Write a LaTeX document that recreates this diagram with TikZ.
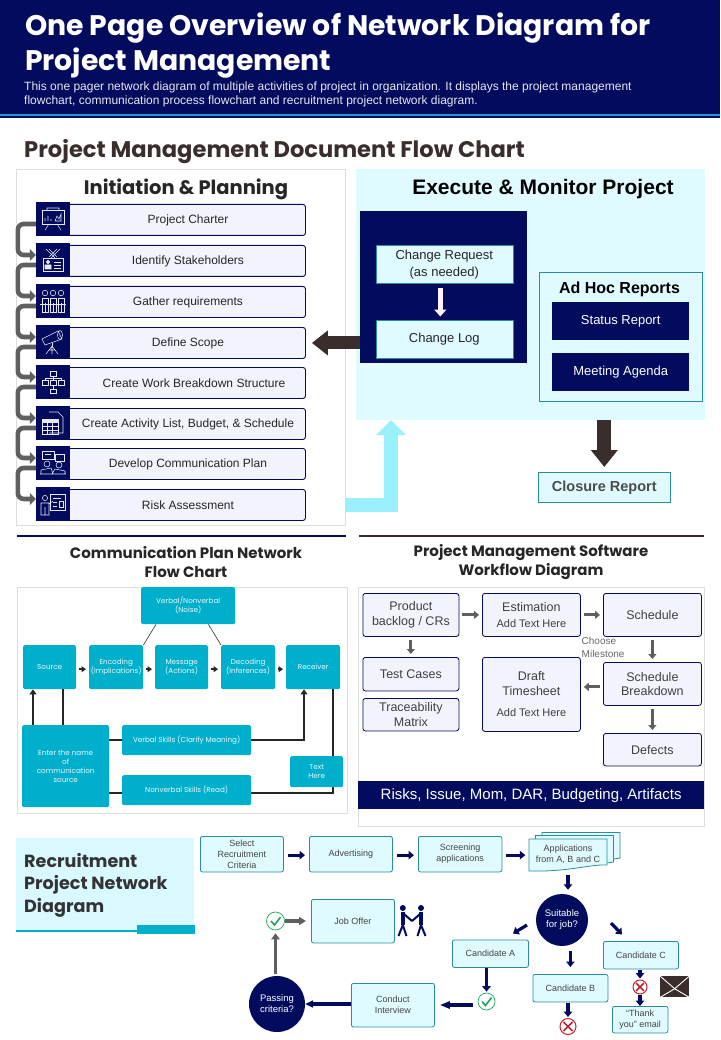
\documentclass[tikz,border=0pt]{standalone}
\usepackage{fontspec}
\setmainfont{Liberation Sans}
\newfontfamily\gothic{Poppins}
\usetikzlibrary{arrows.meta}
\definecolor{navy}{HTML}{020B5E}
\definecolor{stripe}{HTML}{1E9BD7}
\definecolor{brownish}{HTML}{3A2E2C}
\definecolor{teal}{HTML}{00AFCB}
\definecolor{tealline}{HTML}{2A8C9C}
\definecolor{pale}{HTML}{E0FBFF}
\definecolor{hirepale}{HTML}{D8F9FF}
\definecolor{lilac}{HTML}{F2F3FD}
\definecolor{skyarrow}{HTML}{99F0FB}
\definecolor{greyarrow}{HTML}{5F5F5F}
\definecolor{panelline}{HTML}{DDDDDD}
\definecolor{txtgrey}{HTML}{444444}
\definecolor{tickgreen}{HTML}{1FA55B}
\definecolor{crossred}{HTML}{C2202C}
\tikzset{
  box/.style={anchor=north west,inner sep=0pt,align=center},
  panel/.style={box,draw=panelline,line width=.8pt},
  rowbox/.style={box,draw=navy,line width=.9pt,fill=lilac,rounded corners=2.5pt,minimum width=240,minimum height=31,font=\fontsize{12}{14}\selectfont,text=black!85,execute at begin node={\hspace*{5pt}}},
  iconbox/.style={anchor=center,inner sep=0pt,fill=navy,minimum size=34},
  iconline/.style={draw=white!90!navy,line width=.55pt},
  loopline/.style={draw=greyarrow,line width=4.6pt,rounded corners=6pt,-{Triangle[length=6pt,width=12pt]}},
  heading/.style={anchor=center,inner sep=0pt,align=center,font=\gothic\bfseries\fontsize{15}{19}\selectfont,text=black!85},
  execbox/.style={box,draw=tealline,line width=.6pt,fill=pale,font=\fontsize{13}{17}\selectfont,text=black!85},
  darkbox/.style={box,fill=navy,text=white,font=\fontsize{13}{15}\selectfont},
  flatarrow/.style={line width=#1,shorten <=4pt,shorten >=3pt},
  commbox/.style={box,fill=teal,rounded corners=1.5pt,text=white!92!teal,font=\gothic\fontsize{7.2}{9}\selectfont},
  commline/.style={draw=black!85,line width=1.5pt},
  commdot/.style={commline,-{Triangle[length=4.5pt,width=6pt]},shorten <=3pt,shorten >=3pt},
  commtip/.style={commline,-{Triangle[length=5pt,width=7pt]}},
  softbox/.style={box,draw=navy,line width=.8pt,fill=lilac,rounded corners=2.5pt,font=\fontsize{12.5}{14.5}\selectfont,text=black!75},
  softarrow/.style={draw=greyarrow,line width=3pt,-{Triangle[length=5pt,width=8pt]},shorten <=3pt,shorten >=3pt},
  hirebox/.style={box,draw=tealline,line width=.8pt,fill=pale,rounded corners=2pt,font=\fontsize{9}{11}\selectfont,text=txtgrey},
  hirearrow/.style={draw=navy,line width=3.2pt,-{Triangle[length=5.5pt,width=8.5pt]},shorten <=4pt,shorten >=4pt},
  hirecircle/.style={circle,fill=navy,text=white,inner sep=0pt,align=center,font=\fontsize{9.5}{11}\selectfont},
  tickring/.style={circle,draw=tickgreen,line width=.7pt,fill=white,inner sep=0pt},
  crossring/.style={circle,draw=crossred,line width=1pt,fill=white,inner sep=0pt},
  tickmark/.style={draw=tickgreen,line width=1.6pt},
  crossmark/.style={draw=crossred,line width=1.6pt,shorten <=2pt,shorten >=2pt},
  docsheet/.style={draw=tealline,line width=.8pt,fill=pale},
  iconBoard/.pic={
    \draw[iconline] (-11,-9) rectangle (11,5);
    \draw[iconline] (-8,2) -- (-8,-1) (-5,2) -- (-5,-3) (-2,2) -- (-2,0) (2,2) -- (4,-3) -- (6,0) -- (8,-5) -- (8,2) -- cycle;
    \draw[iconline] (-4,5) -- (-8,11) (4,5) -- (8,11) (-6,-9) -- (-6,-11) -- (6,-11) -- (6,-9);},
  iconBadge/.pic={
    \draw[iconline] (-7,-11) -- (2,-2) (7,-11) -- (-2,-2) (-4,-11) -- (4,-3) (4,-11) -- (-4,-3);
    \draw[iconline] (-10,-2) rectangle (10,11);
    \draw[iconline,fill=white!90!navy] (-5,2) circle (1.8) (-8,9) rectangle (-2,5);
    \draw[iconline] (1,2) -- (8,2) (1,5) -- (8,5) (1,8) -- (8,8);},
  iconCrowd/.pic={
    \draw[iconline] (-8,-8) circle (2.8) (0,-8) circle (2.8) (8,-8) circle (2.8);
    \draw[iconline] (-11,-3) rectangle (-5,11) (-3,-3) rectangle (3,11) (5,-3) rectangle (11,11);
    \draw[iconline] (-8,2) -- (-8,11) (0,2) -- (0,11) (8,2) -- (8,11) (-13,3) -- (13,3);},
  iconScope/.pic={
    \draw[iconline] (-11,-3) -- (5,-11) -- (9,-3) -- (-8,3) -- cycle;
    \draw[iconline] (7,-7) ellipse (2.5 and 4.5);
    \draw[iconline] (-1,1) -- (-1,4);
    \draw[iconline] (-1,4) -- (-7,12) (-1,4) -- (-1,12) (-1,4) -- (5,12) (-4,8) -- (2,8);},
  iconTree/.pic={
    \draw[iconline] (-3,-11) rectangle (3,-6) (-11,-2) rectangle (-5,3) (-3,-2) rectangle (3,3) (5,-2) rectangle (11,3) (-3,7) rectangle (3,11);
    \draw[iconline] (0,-6) -- (0,-2) (-8,-2) -- (-8,-4) -- (8,-4) -- (8,-2) (0,3) -- (0,7);},
  iconCalc/.pic={
    \draw[iconline] (-4,-11) -- (5,-11) -- (10,-6) -- (10,10) -- (-4,10);
    \draw[iconline,fill=white!90!navy] (-11,-4) rectangle (5,-1);
    \draw[iconline] (-11,-4) rectangle (5,11) (-11,3) -- (5,3) (-11,7) -- (5,7) (-6,-1) -- (-6,11) (-1,-1) -- (-1,11);},
  iconTalk/.pic={
    \draw[iconline] (-11,-12) rectangle (1,-4) (2,-9) rectangle (11,-2) (-8,-9) -- (-2,-9);
    \draw[iconline] (-6,1) circle (3) (6,2) circle (3);
    \draw[iconline] (-12,11) -- (-12,7) -- (-2,5) -- (0,11) (12,11) -- (12,8) -- (2,6) -- (-1,11) (-13,11) -- (13,11);},
  iconTeach/.pic={
    \draw[iconline] (-3,-10) rectangle (12,6);
    \draw[iconline] (0,-6) -- (8,-6) (0,-2) -- (4,-2) (6,-3) rectangle (10,3) (0,2) -- (4,2);
    \draw[iconline] (-8,-6) circle (2.6);
    \draw[iconline] (-12,11) -- (-12,-1) -- (-4,-1) -- (-4,11) -- cycle (-8,3) -- (-8,11) (-4,0) -- (0,-3);},
}
\begin{document}
\begin{tikzpicture}[x=1pt,y=-1pt]
  \useasboundingbox (0,0) rectangle (720,1040);
  % header
  \fill[navy] (0,0) rectangle (720,118.5);
  \fill[stripe] (0,114.2) rectangle (720,116.4);
  \node[box,text=white,align=left,font=\gothic\bfseries\fontsize{28.3}{35}\selectfont] (title) at (25,13) {One Page Overview of Network Diagram for\\Project Management};
  \node[box,text=white!90!navy,align=left,font=\fontsize{12}{14}\selectfont] (subtitle) at (24,82) {This one pager network diagram of multiple activities of project in organization. It displays the project management\\flowchart, communication process flowchart  and recruitment project network diagram.};
  \node[box,text=brownish,font=\gothic\bfseries\fontsize{22.6}{27}\selectfont] (docTitle) at (24,139) {Project Management Document Flow Chart};

  % initiation and planning
  \node[panel,minimum width=329,minimum height=356] (panelPlan) at (16,169) {};
  \node[heading,font=\gothic\bfseries\fontsize{19.5}{23}\selectfont] (planTitle) at (186,189.5) {Initiation \& Planning};
  \node[rowbox] (rowCharter) at (65,204) {Project Charter};
  \node[rowbox] (rowStake) at (65,245) {Identify Stakeholders};
  \node[rowbox] (rowGather) at (65,286) {Gather requirements};
  \node[rowbox] (rowScope) at (65,327) {Define Scope};
  \node[rowbox] (rowWork) at (65,367) {\hspace*{12pt}Create Work Breakdown Structure};
  \node[rowbox] (rowActivity) at (65,408) {Create Activity  List, Budget, \& Schedule};
  \node[rowbox] (rowPlan) at (65,448) {Develop Communication Plan};
  \node[rowbox] (rowRisk) at (65,489) {Risk Assessment};
  \node[iconbox] (iconCharter) at (53,219) {};
  \node[iconbox] (iconStake) at (53,260) {};
  \node[iconbox] (iconGather) at (53,301) {};
  \node[iconbox] (iconScope) at (53,342) {};
  \node[iconbox] (iconWork) at (53,382) {};
  \node[iconbox] (iconActivity) at (53,423) {};
  \node[iconbox] (iconPlan) at (53,463) {};
  \node[iconbox] (iconRisk) at (53,504) {};
  \pic at (iconCharter) {iconBoard};
  \pic at (iconStake) {iconBadge};
  \pic at (iconGather) {iconCrowd};
  \pic at (iconScope) {iconScope};
  \pic at (iconWork) {iconTree};
  \pic at (iconActivity) {iconCalc};
  \pic at (iconPlan) {iconTalk};
  \pic at (iconRisk) {iconTeach};
  \draw[loopline] ([yshift=-5pt]iconCharter.west) -- ++(-18,0) |- ([yshift=5pt]iconStake.west);
  \draw[loopline] ([yshift=-5pt]iconStake.west) -- ++(-18,0) |- ([yshift=5pt]iconGather.west);
  \draw[loopline] ([yshift=-5pt]iconGather.west) -- ++(-18,0) |- ([yshift=5pt]iconScope.west);
  \draw[loopline] ([yshift=-5pt]iconScope.west) -- ++(-18,0) |- ([yshift=5pt]iconWork.west);
  \draw[loopline] ([yshift=-5pt]iconWork.west) -- ++(-18,0) |- ([yshift=5pt]iconActivity.west);
  \draw[loopline] ([yshift=-5pt]iconActivity.west) -- ++(-18,0) |- ([yshift=5pt]iconPlan.west);
  \draw[loopline] ([yshift=-5pt]iconPlan.west) -- ++(-18,0) |- ([yshift=5pt]iconRisk.west);

  % execute and monitor
  \node[box,fill=pale,minimum width=349,minimum height=251] (panelExec) at (356,169) {};
  \node[anchor=center,inner sep=0pt,font=\bfseries\fontsize{21}{24}\selectfont] (execTitle) at (543,189) {Execute \& Monitor Project};
  \node[box,fill=navy,minimum width=167,minimum height=152] (changeBlock) at (360,211) {};
  \node[execbox,minimum width=137,minimum height=38] (changeRequest) at (375.5,245.5) {Change Request\\(as needed)};
  \node[execbox,minimum width=137,minimum height=38] (changeLog) at (375.5,319.5) {Change Log};
  \draw[draw=white!95!red,line width=4.5pt,-{Triangle[length=7pt,width=12pt]},flatarrow=4.5pt] ([xshift=-4pt]changeRequest.south) -- ([xshift=-4pt]changeLog.north);
  \node[execbox,minimum width=163,minimum height=129] (adHoc) at (539,272) {};
  \node[anchor=center,inner sep=0pt,font=\bfseries\fontsize{16}{19}\selectfont] (adHocTitle) at (619.5,289.5) {Ad Hoc Reports};
  \node[darkbox,minimum width=137,minimum height=38] (statusReport) at (552,302) {Status Report};
  \node[darkbox,minimum width=137,minimum height=38] (meetingAgenda) at (552,353) {Meeting Agenda};
  \node[execbox,minimum width=132,minimum height=30,font=\bfseries\fontsize{14.5}{17}\selectfont,text=black!70] (closure) at (538,472) {Closure Report};
  \draw[draw=brownish,line width=13pt,-{Triangle[length=16pt,width=24pt]},shorten >=6pt] (changeBlock.west |- rowScope.east) -- (rowScope.east);
  \draw[draw=brownish,line width=14pt,-{Triangle[length=17pt,width=26pt]},shorten >=5pt] (panelExec.south -| closure.north) -- (closure.north);
  \coordinate (execIn) at (391,420);
  \coordinate (planOut) at (345,505);
  \draw[draw=skyarrow,line width=14pt,-{Triangle[length=15pt,width=29pt]}] (planOut) -| (execIn);

  % communication plan
  \draw[navy,line width=2pt] (17,536) -- (346,536);
  \draw[brownish,line width=2pt] (359,536) -- (704,536);
  \node[heading] (commTitle) at (186,562.5) {Communication Plan Network\\Flow Chart};
  \node[panel,minimum width=329.5,minimum height=225.5] (panelComm) at (17,587) {};
  \node[commbox,minimum width=94,minimum height=37] (commNoise) at (141,587) {Verbal/Nonverbal\\(Noise)};
  \node[commbox,minimum width=53,minimum height=44] (commSource) at (23,645) {Source};
  \node[commbox,minimum width=54,minimum height=44] (commEncode) at (89,645) {Encoding\\(Implications)};
  \node[commbox,minimum width=53,minimum height=44] (commMessage) at (155,645) {Message\\(Actions)};
  \node[commbox,minimum width=54,minimum height=44] (commDecode) at (221,645) {Decoding\\(Inferences)};
  \node[commbox,minimum width=54,minimum height=44] (commReceive) at (286,645) {Receiver};
  \node[commbox,minimum width=87,minimum height=82] (commName) at (22,725) {Enter the name\\of\\communication\\source};
  \node[commbox,minimum width=129,minimum height=30] (commVerbal) at (122,725) {Verbal Skills (Clarify Meaning)};
  \node[commbox,minimum width=129,minimum height=30] (commNonverbal) at (122,775) {Nonverbal Skills (Read)};
  \draw[brownish,line width=.6pt] ([xshift=15pt]commNoise.south west) -- (commEncode.north east);
  \draw[brownish,line width=.6pt] ([xshift=-27pt]commNoise.south east) -- (commDecode.north west);
  \draw[commdot] ([yshift=-2pt]commSource.east) -- ([yshift=-2pt]commEncode.west);
  \draw[commdot] ([yshift=-2pt]commEncode.east) -- ([yshift=-2pt]commMessage.west);
  \draw[commdot] ([yshift=-2pt]commMessage.east) -- ([yshift=-2pt]commDecode.west);
  \draw[commdot] ([yshift=-2pt]commDecode.east) -- ([yshift=-2pt]commReceive.west);
  \draw[commtip] ([xshift=11pt]commName.north west) -- ([xshift=10pt]commSource.south west);
  \draw[commline] ([xshift=41pt]commName.north west) -- ([xshift=40pt]commSource.south west);
  \draw[commline] (commName.east |- commVerbal.west) -- (commVerbal.west);
  \draw[commtip] (commVerbal.east) -| ([xshift=18pt]commReceive.south west);
  \draw[commline] (commName.east |- commNonverbal.west) ++(0,3) -- ++(13,0);
  \draw[commline] ([yshift=-3pt]commNonverbal.east) -| ([xshift=47pt]commReceive.south west);
  \node[commbox,minimum width=53,minimum height=31] (commText) at (290,756) {Text\\Here};

  % software workflow
  \node[heading] (softTitle) at (531,562.5) {Project Management Software\\Workflow Diagram};
  \node[panel,minimum width=346,minimum height=239] (panelSoft) at (358,587) {};
  \node[softbox,minimum width=96,minimum height=43] (softProduct) at (362.5,593) {Product\\backlog / CRs};
  \node[softbox,minimum width=98,minimum height=43] (softEstimate) at (482,593) {Estimation\\[1pt]{\fontsize{11}{13}\selectfont Add Text Here}};
  \node[softbox,minimum width=98,minimum height=43] (softSchedule) at (603,593) {Schedule};
  \node[softbox,minimum width=96,minimum height=33.5] (softTest) at (362.5,657) {Test Cases};
  \node[softbox,minimum width=96,minimum height=32.5] (softTrace) at (362.5,698) {Traceability\\Matrix};
  \node[softbox,minimum width=98,minimum height=74] (softDraft) at (482,657) {Draft\\Timesheet\\[7pt]{\fontsize{11}{13}\selectfont Add Text Here}};
  \node[softbox,minimum width=98,minimum height=43] (softBreak) at (603,662) {Schedule\\Breakdown};
  \node[softbox,minimum width=98,minimum height=32.5] (softDefects) at (603,733) {Defects};
  \node[box,fill=navy,text=white,minimum width=346,minimum height=28,font=\fontsize{15}{18}\selectfont] (softBanner) at (358,781) {Risks, Issue, Mom, DAR, Budgeting, Artifacts};
  \node[box,align=left,text=black!60,font=\fontsize{10}{13}\selectfont] (softChoose) at (581.5,637) {Choose\\Milestone};
  \draw[softarrow] (softProduct) -- (softEstimate);
  \draw[softarrow] (softEstimate) -- (softSchedule);
  \draw[softarrow] (softProduct) -- (softTest);
  \draw[softarrow] (softSchedule) -- (softBreak);
  \draw[softarrow] ([yshift=-3pt]softBreak.west) -- ([yshift=-3pt]softBreak.west -| softDraft.east);
  \draw[softarrow] (softBreak) -- (softDefects);

  % recruitment
  \node[box,fill=hirepale,minimum width=178,minimum height=93] (hireBlock) at (16,838) {};
  \fill[teal] (16,929.5) rectangle (137,931.5);
  \fill[teal] (137,925) rectangle (195,934);
  \node[box,align=left,text=black!80,font=\gothic\bfseries\fontsize{17.6}{22.5}\selectfont] (hireTitle) at (24,853) {Recruitment\\Project Network\\Diagram};
  \node[hirebox,minimum width=83,minimum height=35.5] (hireSelect) at (200,836) {Select\\Recruitment\\Criteria};
  \node[hirebox,minimum width=83,minimum height=35.5] (hireAdvert) at (309,836) {Advertising};
  \node[hirebox,minimum width=83.5,minimum height=35.5] (hireScreen) at (418,836) {Screening\\applications};
  \draw[docsheet] (542,832.5) -- (620,832.5) -- (620,858) -- (608,860) -- (542,860) -- cycle;
  \draw[docsheet] (535.5,835.5) -- (613.5,835.5) -- (613.5,862) -- (600,864) -- (535.5,864) -- cycle;
  \draw[docsheet] (529,839) -- (607,839) -- (607,865) .. controls (590,864) and (570,872) .. (529,871) -- cycle;
  \node[anchor=center,inner sep=0pt,align=center,font=\fontsize{9}{11}\selectfont,text=txtgrey] (hireApps) at (568,854) {Applications\\from A, B and C};
  \node[hirecircle,minimum size=52] (hireSuitable) at (562,920) {Suitable\\for job?};
  \node[hirebox,minimum width=83,minimum height=43.5] (hireOffer) at (311,899) {Job Offer};
  \node[hirebox,minimum width=76,minimum height=27.5] (hireA) at (452,939.5) {Candidate A};
  \node[hirebox,minimum width=75,minimum height=27.5] (hireB) at (532.5,974) {Candidate B};
  \node[hirebox,minimum width=75,minimum height=27.5] (hireC) at (603,941) {Candidate C};
  \node[hirebox,minimum width=83,minimum height=43.5] (hireInterview) at (351,983) {Conduct\\Interview};
  \node[hirecircle,minimum size=56] (hirePassing) at (277,1004) {Passing\\criteria?};
  \node[hirebox,minimum width=55.5,minimum height=26.5] (hireThanks) at (612,1006) {``Thank\\you'' email};
  \node[tickring,minimum size=18] (tickOffer) at (275.5,921) {};
  \node[tickring,minimum size=17] (tickA) at (486.5,1001.5) {};
  \node[crossring,minimum size=16] (crossB) at (568,1026.5) {};
  \node[crossring,minimum size=14] (crossC) at (640,987) {};
  \draw[tickmark] ([xshift=-4.5pt]tickOffer.center) -- ++(3.5,4) -- ++(6,-8);
  \draw[tickmark] ([xshift=-4.5pt]tickA.center) -- ++(3.5,4) -- ++(6,-8);
  \draw[crossmark] (crossB.north west) -- (crossB.south east);
  \draw[crossmark] (crossB.north east) -- (crossB.south west);
  \draw[crossmark] (crossC.north west) -- (crossC.south east);
  \draw[crossmark] (crossC.north east) -- (crossC.south west);
  \draw[hirearrow] ([yshift=-1pt]hireSelect.east) -- ([yshift=-1pt]hireAdvert.west);
  \draw[hirearrow] ([yshift=-1pt]hireAdvert.east) -- ([yshift=-1pt]hireScreen.west);
  \draw[hirearrow] ([yshift=-1pt]hireScreen.east) -- ++(27,0);
  \coordinate (appsBottom) at (568,871);
  \coordinate (leftFrom) at (527,925);
  \coordinate (leftTo) at (513,933.5);
  \coordinate (rightFrom) at (611,923);
  \coordinate (rightTo) at (622,934.5);
  \draw[hirearrow] (appsBottom) -- (appsBottom |- hireSuitable.north);
  \draw[hirearrow,shorten <=0pt,shorten >=0pt] (leftFrom) -- (leftTo);
  \draw[hirearrow,shorten <=0pt,shorten >=0pt] (rightFrom) -- (rightTo);
  \draw[hirearrow,shorten <=5pt,shorten >=7pt] (hireSuitable.south -| hireB.north) -- (hireB.north);
  \draw[hirearrow,shorten <=0pt,shorten >=1pt] (hireA.south -| tickA.north) -- (tickA.north);
  \draw[hirearrow,-{Triangle[length=10pt,width=7pt]},shorten <=5pt,shorten >=5pt] ([yshift=-3.5pt]tickA.west) -- ([yshift=-3.5pt]tickA.west -| hireInterview.east);
  \draw[hirearrow,shorten <=0pt,shorten >=0pt,-{Triangle[length=8pt,width=7pt]}] (hireInterview.west |- hirePassing.east) -- (hirePassing.east);
  \draw[draw=greyarrow,line width=3.6pt,-{Triangle[length=6pt,width=8.5pt]},shorten <=2pt,shorten >=3pt] (hirePassing.north -| tickOffer.south) -- (tickOffer.south);
  \draw[draw=greyarrow,line width=3.6pt,-{Triangle[length=7pt,width=8pt]},shorten <=0pt,shorten >=5pt] (tickOffer.east) -- (tickOffer.east -| hireOffer.west);
  \draw[hirearrow,shorten <=1pt,shorten >=1pt] (hireB.south -| crossB.north) -- (crossB.north);
  \draw[hirearrow,shorten <=1pt,shorten >=1pt] (hireC.south -| crossC.north) -- (crossC.north);
  \draw[hirearrow,shorten <=0pt,shorten >=0pt] (crossC.south) -- (crossC.south |- hireThanks.north);
  % people and envelope
  \fill[navy] (402.8,908) circle (3) (421,908) circle (3);
  \draw[navy,line width=4pt] (402.8,912) -- (402.8,925) (421,912) -- (421,925);
  \draw[navy,line width=2pt] (412,921) -- (404,914) (412,921) -- (420,914) (402.8,925) -- (398.5,936) (402.8,925) -- (406.5,936) (421,925) -- (417.5,936) (421,925) -- (425.5,936);
  \node[box,fill=brownish,minimum width=29,minimum height=21] (envelope) at (660,976) {};
  \draw[white,line width=.9pt] (envelope.north west) -- ([yshift=-2pt]envelope.center) -- (envelope.north east);
  \draw[white,line width=.9pt] (envelope.south west) -- ([yshift=-2pt]envelope.center) -- (envelope.south east);
\end{tikzpicture}
\end{document}
